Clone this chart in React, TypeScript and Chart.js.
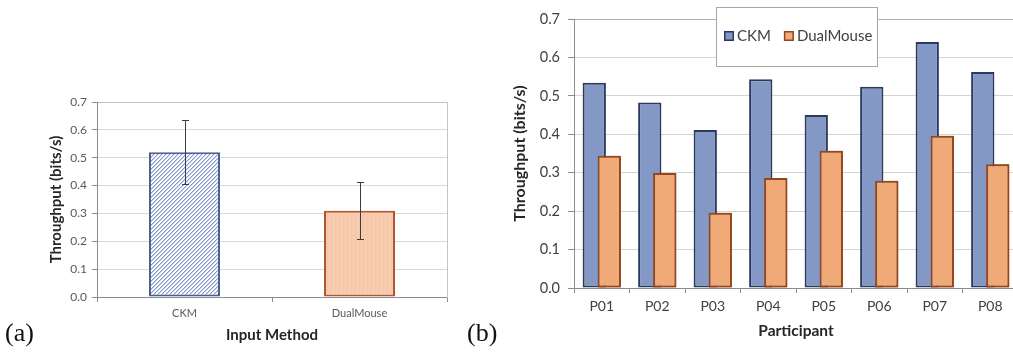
import React, { useEffect, useRef } from 'react';
import { Chart, registerables } from 'chart.js';

Chart.register(...registerables);

// ---- data: chart (a) ----
const methodLabels = ['CKM', 'DualMouse'];
const methodMeans = [0.52, 0.31];
const methodErrors = [0.114, 0.102];

// ---- data: chart (b) ----
const participants = ['P01', 'P02', 'P03', 'P04', 'P05', 'P06', 'P07', 'P08'];
const seriesNames = ['CKM', 'DualMouse'];
const ckmValues = [0.534, 0.483, 0.411, 0.543, 0.45, 0.524, 0.64, 0.562];
const dualMouseValues = [0.344, 0.299, 0.196, 0.286, 0.357, 0.279, 0.396, 0.322];

const yMin = 0;
const yMax = 0.7;
const yStep = 0.1;

const FONT = 'Lato';

function makeHatch(): CanvasPattern | string {
  const c = document.createElement('canvas');
  c.width = 4;
  c.height = 4;
  const g = c.getContext('2d');
  if (!g) return '#c9d2e8';
  g.fillStyle = '#ffffff';
  g.fillRect(0, 0, 4, 4);
  g.fillStyle = '#8597cc';
  for (let i = 0; i < 4; i++) g.fillRect(3 - i, i, 1, 1);
  g.fillStyle = '#c8d1ea';
  for (let i = 0; i < 4; i++) g.fillRect((4 - i) % 4, i, 1, 1);
  return g.createPattern(c, 'repeat') || '#c9d2e8';
}

function makeDots(): CanvasPattern | string {
  const c = document.createElement('canvas');
  c.width = 4;
  c.height = 4;
  const g = c.getContext('2d');
  if (!g) return '#f6c6a8';
  g.fillStyle = '#f7c9ad';
  g.fillRect(0, 0, 4, 4);
  g.fillStyle = '#f9d6c1';
  g.fillRect(1, 1, 1, 1);
  g.fillStyle = '#f2bd9d';
  g.fillRect(3, 2, 1, 1);
  return g.createPattern(c, 'repeat') || '#f6c6a8';
}

const errorBarPlugin = {
  id: 'errorBars',
  afterDatasetsDraw(chart: any) {
    const meta = chart.getDatasetMeta(0);
    const yScale = chart.scales.y;
    const ctx = chart.ctx;
    ctx.save();
    ctx.strokeStyle = '#3c3c3c';
    ctx.lineWidth = 1;
    meta.data.forEach((bar: any, i: number) => {
      const x = Math.round(bar.x) + 0.5;
      const yt = Math.round(yScale.getPixelForValue(methodMeans[i] + methodErrors[i])) + 0.5;
      const yb = Math.round(yScale.getPixelForValue(methodMeans[i] - methodErrors[i])) + 0.5;
      ctx.beginPath();
      ctx.moveTo(x, yt);
      ctx.lineTo(x, yb);
      ctx.moveTo(x - 3.5, yt);
      ctx.lineTo(x + 3.5, yt);
      ctx.moveTo(x - 3.5, yb);
      ctx.lineTo(x + 3.5, yb);
      ctx.stroke();
    });
    ctx.restore();
  },
};

const overlapPlugin = {
  id: 'overlapOrder',
  afterDatasetsDraw(chart: any) {
    const meta = chart.getDatasetMeta(1);
    if (meta && meta.controller) meta.controller.draw();
  },
};

const boxLegendPlugin = {
  id: 'boxLegend',
  afterDraw(chart: any) {
    const { ctx, chartArea } = chart;
    const w = 161;
    const h = 59;
    const cx = (chartArea.left + chartArea.right) / 2;
    const left = Math.round(cx - w / 2) + 0.5;
    const top = Math.round(chartArea.top - 12) + 0.5;
    ctx.save();
    ctx.fillStyle = '#ffffff';
    ctx.fillRect(left, top, w, h);
    ctx.strokeStyle = '#a6a6a6';
    ctx.lineWidth = 1;
    ctx.strokeRect(left, top, w, h);
    ctx.font = `15px ${FONT}`;
    ctx.textBaseline = 'middle';
    ctx.textAlign = 'left';
    const items = chart.data.datasets.map((ds: any) => ({
      text: ds.label,
      fill: ds.backgroundColor,
      stroke: ds.borderColor,
    }));
    const sq = 10;
    const gap = 3;
    const between = 13;
    const widths = items.map((it: any) => sq + gap + ctx.measureText(it.text).width);
    const total = widths.reduce((a: number, b: number) => a + b, 0) + between * (items.length - 1);
    let x = Math.round(cx - total / 2 + 2);
    const yMid = Math.round(top + h / 2 - 1);
    items.forEach((it: any, i: number) => {
      ctx.fillStyle = it.fill;
      ctx.fillRect(x, yMid - sq / 2, sq, sq);
      ctx.strokeStyle = it.stroke;
      ctx.lineWidth = 1.5;
      ctx.strokeRect(x + 0.75, yMid - sq / 2 + 0.75, sq - 1.5, sq - 1.5);
      ctx.fillStyle = '#404040';
      ctx.fillText(it.text, x + sq + gap, yMid);
      x += widths[i] + between;
    });
    ctx.restore();
  },
};

const gridColor = (light: string, top: string) => (c: any) =>
  c.tick && c.tick.value >= yMax - 1e-6 ? top : light;

export default function App() {
  const leftRef = useRef<HTMLCanvasElement | null>(null);
  const rightRef = useRef<HTMLCanvasElement | null>(null);

  useEffect(() => {
    if (!leftRef.current || !rightRef.current) return;
    const hatch = makeHatch();
    const dots = makeDots();

    const left = new Chart(leftRef.current, {
      type: 'bar',
      data: {
        labels: methodLabels,
        datasets: [
          {
            label: 'Throughput',
            data: methodMeans,
            backgroundColor: [hatch, dots] as any,
            borderColor: ['#4d5f8e', '#b0552c'],
            borderWidth: 2,
            borderSkipped: false,
            categoryPercentage: 1,
            barPercentage: 0.406,
          },
        ],
      },
      options: {
        responsive: false,
        animation: false,
        devicePixelRatio: 1,
        layout: { padding: { left: 0, right: 13, top: 102, bottom: 6 } },
        plugins: { legend: { display: false }, tooltip: { enabled: false } },
        scales: {
          x: {
            type: 'category',
            offset: true,
            grid: {
              display: true,
              drawOnChartArea: false,
              drawTicks: true,
              tickLength: 5,
              offset: true,
              tickColor: '#8c8c8c',
            },
            border: { display: true, color: '#8c8c8c' },
            ticks: { font: { family: FONT, size: 11 }, color: '#595959', padding: 5 },
            title: {
              display: true,
              text: 'Input Method',
              font: { family: FONT, size: 15, weight: 'bold' },
              color: '#262626',
              padding: { top: 0, bottom: 3 },
            },
            afterFit: (s: any) => {
              s.height = 50;
            },
          },
          y: {
            min: yMin,
            max: yMax,
            ticks: {
              stepSize: yStep,
              callback: (v: any) => Number(v).toFixed(1),
              font: { family: FONT, size: 12 },
              color: '#595959',
              padding: 5,
            },
            grid: {
              color: gridColor('#d9d9d9', '#c4c4c4'),
              tickLength: 5,
              tickColor: '#8c8c8c',
            },
            border: { color: '#8c8c8c' },
            title: {
              display: true,
              text: 'Throughput (bits/s)',
              font: { family: FONT, size: 15, weight: 'bold' },
              color: '#262626',
              padding: { top: 47, bottom: 0 },
            },
            afterFit: (s: any) => {
              s.width = 97;
            },
          },
          y2: {
            position: 'right',
            display: true,
            grid: { drawOnChartArea: false, drawTicks: false },
            ticks: { display: false },
            border: { display: true, color: '#c4c4c4' },
            afterFit: (s: any) => {
              s.width = 0;
            },
          },
        },
      } as any,
      plugins: [errorBarPlugin],
    });

    const right = new Chart(rightRef.current, {
      type: 'bar',
      data: {
        labels: participants,
        datasets: [
          {
            label: seriesNames[0],
            data: ckmValues,
            backgroundColor: '#8398c4',
            borderColor: '#2b3a5c',
            borderWidth: 2,
            borderSkipped: false,
            categoryPercentage: 0.54,
            barPercentage: 1.555,
          },
          {
            label: seriesNames[1],
            data: dualMouseValues,
            backgroundColor: '#f0aa78',
            borderColor: '#94461c',
            borderWidth: 2,
            borderSkipped: false,
            categoryPercentage: 0.54,
            barPercentage: 1.555,
          },
        ],
      },
      options: {
        responsive: false,
        animation: false,
        devicePixelRatio: 1,
        layout: { padding: { left: 0, right: 12, top: 19, bottom: 5 } },
        plugins: { legend: { display: false }, tooltip: { enabled: false } },
        scales: {
          x: {
            type: 'category',
            offset: true,
            grid: {
              display: true,
              drawOnChartArea: false,
              drawTicks: true,
              tickLength: 5,
              offset: true,
              tickColor: '#8c8c8c',
            },
            border: { display: true, color: '#8c8c8c' },
            ticks: { font: { family: FONT, size: 14 }, color: '#404040', padding: 5 },
            title: {
              display: true,
              text: 'Participant',
              font: { family: FONT, size: 15.5, weight: 'bold' },
              color: '#262626',
              padding: { top: 0, bottom: 7.7 },
            },
            afterFit: (s: any) => {
              s.height = 60;
            },
          },
          y: {
            min: yMin,
            max: yMax,
            ticks: {
              stepSize: yStep,
              callback: (v: any) => Number(v).toFixed(1),
              font: { family: FONT, size: 14.5 },
              color: '#404040',
              padding: 8,
            },
            grid: {
              color: gridColor('#d4d4d4', '#b0b0b0'),
              tickLength: 6,
              tickColor: '#8c8c8c',
            },
            border: { color: '#8c8c8c' },
            title: {
              display: true,
              text: 'Throughput (bits/s)',
              font: { family: FONT, size: 16, weight: 'bold' },
              color: '#262626',
              padding: { top: 40.4, bottom: 0 },
            },
            afterFit: (s: any) => {
              s.width = 104;
            },
          },
        },
      } as any,
      plugins: [overlapPlugin, boxLegendPlugin],
    });

    return () => {
      left.destroy();
      right.destroy();
    };
  }, []);

  const labelStyle: React.CSSProperties = {
    position: 'absolute',
    top: 320,
    fontFamily: '"Liberation Serif", "Times New Roman", serif',
    fontSize: 26,
    lineHeight: 1,
    color: '#111',
  };

  return (
    <div
      style={{
        position: 'absolute',
        left: 0,
        top: 0,
        width: 1013,
        height: 353,
        overflow: 'hidden',
        background: '#ffffff',
      }}
    >
      <canvas
        ref={leftRef}
        width={460}
        height={353}
        style={{ position: 'absolute', left: 0, top: 0, width: 460, height: 353 }}
      />
      <canvas
        ref={rightRef}
        width={560}
        height={353}
        style={{ position: 'absolute', left: 470, top: 0, width: 560, height: 353 }}
      />
      <div style={{ ...labelStyle, left: 5 }}>(a)</div>
      <div style={{ ...labelStyle, left: 467 }}>(b)</div>
    </div>
  );
}
